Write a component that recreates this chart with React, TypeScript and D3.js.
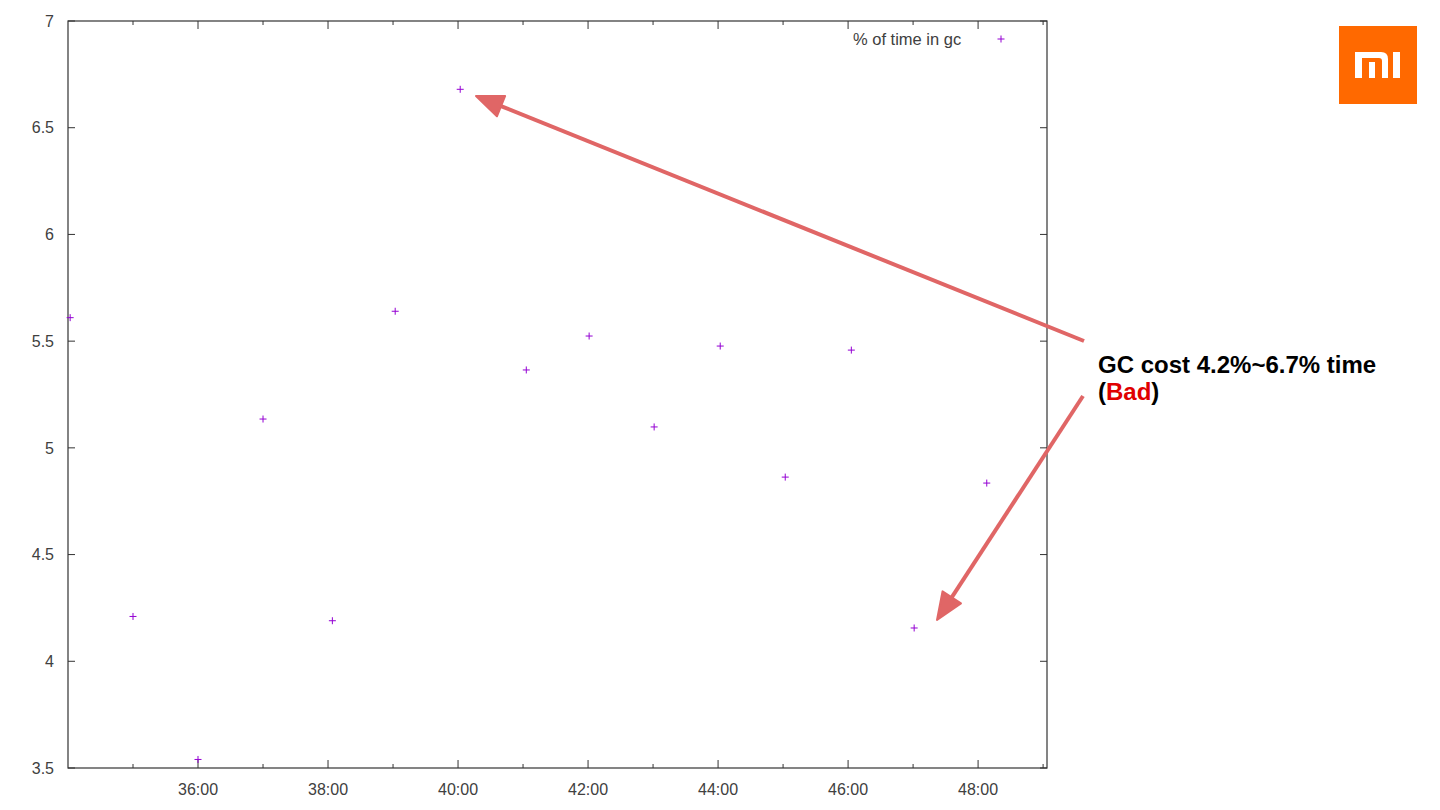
import React from "react";
import * as d3 from "d3";

const times = ["34:02", "35:00", "36:00", "37:00", "38:04", "39:02", "40:02", "41:03", "42:01", "43:01", "44:02", "45:02", "46:03", "47:01", "48:08"];
const gcPercent = [5.61, 4.21, 3.54, 5.135, 4.19, 5.64, 6.68, 5.365, 5.524, 5.098, 5.477, 4.863, 5.458, 4.156, 4.835];
const yTicks = [3.5, 4, 4.5, 5, 5.5, 6, 6.5, 7];
const xMajorTicks = [36, 38, 40, 42, 44, 46, 48];
const xMinorTicks = [35, 37, 39, 41, 43, 45, 47, 49];
const legendLabel = "% of time in gc";
const noteLine1 = "GC cost 4.2%~6.7% time";

const toMin = (s: string) => {
  const [m, sec] = s.split(":").map(Number);
  return m + sec / 60;
};

export default function App() {
  const W = 1440, H = 810;
  const left = 68, right = 1047, top = 21, bottom = 768;
  const x = d3.scaleLinear().domain([34, 49.06]).range([left, right]);
  const y = d3.scaleLinear().domain([3.5, 7]).range([bottom, top]);
  const fmt = (m: number) => `${String(m).padStart(2, "0")}:00`;
  const axisColor = "#333";
  const labelColor = "#404040";
  const font = "'Liberation Sans', Arial, sans-serif";
  const pt = "#9400D3";
  const arrowColor = "#E06666";
  const plus = (cx: number, cy: number, key: any, s = 3.5) => (
    <g key={key} stroke={pt} strokeWidth={1}>
      <line x1={cx - s} x2={cx + s} y1={cy} y2={cy} />
      <line x1={cx} x2={cx} y1={cy - s} y2={cy + s} />
    </g>
  );
  const arrow = (x1: number, y1: number, x2: number, y2: number, key: string) => {
    const ang = Math.atan2(y2 - y1, x2 - x1);
    const hl = 27, hw = 11;
    const bx = x2 - hl * Math.cos(ang), by = y2 - hl * Math.sin(ang);
    const px = -Math.sin(ang), py = Math.cos(ang);
    const pts = [[x2, y2], [bx + hw * px, by + hw * py], [bx - hw * px, by - hw * py]];
    return (
      <g key={key}>
        <line x1={x1} y1={y1} x2={bx} y2={by} stroke={arrowColor} strokeWidth={4} />
        <polygon points={pts.map((p) => p.join(",")).join(" ")} fill={arrowColor} stroke={arrowColor} strokeWidth={2} strokeLinejoin="round" />
      </g>
    );
  };
  return (
    <svg width={W} height={H} style={{ position: "absolute", left: 0, top: 0, background: "#fff" }} fontFamily={font}>
      <rect x={0} y={0} width={W} height={H} fill="#fff" />
      <rect x={left} y={top} width={right - left} height={bottom - top} fill="none" stroke={axisColor} strokeWidth={1.2} />
      {yTicks.map((t) => (
        <g key={"y" + t}>
          <line x1={left} x2={left + 7} y1={y(t)} y2={y(t)} stroke={axisColor} />
          <line x1={right} x2={right - 7} y1={y(t)} y2={y(t)} stroke={axisColor} />
          <text x={54} y={y(t)} dy="0.36em" textAnchor="end" fontSize={16} fill={labelColor}>{String(t)}</text>
        </g>
      ))}
      {xMajorTicks.map((t) => (
        <g key={"x" + t}>
          <line x1={x(t)} x2={x(t)} y1={bottom} y2={bottom - 8} stroke={axisColor} />
          <line x1={x(t)} x2={x(t)} y1={top} y2={top + 8} stroke={axisColor} />
          <text x={x(t)} y={795} textAnchor="middle" fontSize={16} fill={labelColor}>{fmt(t)}</text>
        </g>
      ))}
      {xMinorTicks.map((t) => (
        <g key={"xm" + t}>
          <line x1={x(t)} x2={x(t)} y1={bottom} y2={bottom - 4} stroke={axisColor} />
          <line x1={x(t)} x2={x(t)} y1={top} y2={top + 4} stroke={axisColor} />
        </g>
      ))}
      <text x={853} y={45} fontSize={16.5} fill={labelColor}>{legendLabel}</text>
      {plus(1001, 39, "leg")}
      {times.map((t, i) => plus(x(toMin(t)), y(gcPercent[i]), i))}
      {arrow(1084, 341, 476, 96, "a1")}
      {arrow(1083, 396, 937, 620, "a2")}
      <text x={1098} y={373} fontSize={24} fontWeight="bold" fill="#000">{noteLine1}</text>
      <text x={1098} y={400} fontSize={24} fontWeight="bold" fill="#000">
        (<tspan fill="#E00000">Bad</tspan>)
      </text>
      <rect x={1339} y={26} width={78} height={78} fill="#FF6900" />
      <path d="M1355,52 H1381 Q1388,52 1388,59 V78 H1382 V61 Q1382,58 1379,58 H1362 V78 H1355 Z" fill="#fff" />
      <rect x={1369} y={62} width={6} height={16} fill="#fff" />
      <rect x={1393} y={52} width={7} height={26} fill="#fff" />
    </svg>
  );
}
